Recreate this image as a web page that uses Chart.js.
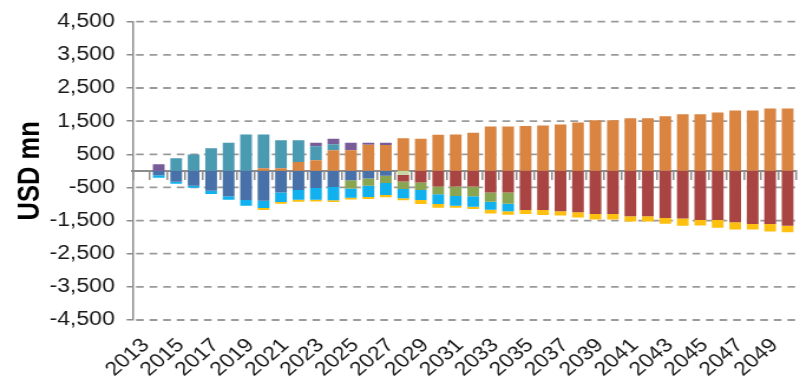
<!DOCTYPE html>
<html>
<head>
<meta charset="utf-8">
<script src="https://cdn.jsdelivr.net/npm/chart.js@4"></script>
<style>
  html, body { margin: 0; padding: 0; background: #fff; overflow: hidden; width: 810px; height: 387px; }
  /* the source picture is stretched sideways, so the chart is drawn narrow and widened */
  #wrap { position: absolute; left: 0; top: 0; width: 690px; height: 387px; transform: scaleX(1.18); transform-origin: 0 0; }
</style>
</head>
<body>
<div id="wrap"><canvas id="chart"></canvas></div>
<script>
const years = [2013, 2014, 2015, 2016, 2017, 2018, 2019, 2020, 2021, 2022, 2023, 2024, 2025,
  2026, 2027, 2028, 2029, 2030, 2031, 2032, 2033, 2034, 2035, 2036, 2037, 2038,
  2039, 2040, 2041, 2042, 2043, 2044, 2045, 2046, 2047, 2048, 2049];

// positive series, stacked up from zero in this order
const orange = [0, 0, 0, 0, 0, 0, 80, 80, 270, 320, 620, 620, 790, 780, 980, 970, 1090, 1100, 1150,
  1340, 1340, 1350, 1370, 1400, 1460, 1525, 1525, 1585, 1585, 1645, 1705, 1705, 1760, 1820, 1820, 1880, 1880];
const teal = [0, 380, 490, 680, 850, 1100, 1020, 840, 650, 420, 180, 0, 0, 0, 0, 0, 0, 0, 0,
  0, 0, 0, 0, 0, 0, 0, 0, 0, 0, 0, 0, 0, 0, 0, 0, 0, 0];
const purple = [200, 0, 0, 0, 0, 0, 0, 0, 0, 110, 170, 230, 60, 70, 0, 0, 0, 0, 0,
  0, 0, 0, 0, 0, 0, 0, 0, 0, 0, 0, 0, 0, 0, 0, 0, 0, 0];

// negative series, stacked down from zero in this order
const darkBlue = [-130, -330, -450, -600, -770, -880, -900, -650, -580, -520, -490, -280, -230, -150, 0, 0, 0, 0, 0,
  0, 0, 0, 0, 0, 0, 0, 0, 0, 0, 0, 0, 0, 0, 0, 0, 0, 0];
const lightGreen = [0, 0, 0, 0, 0, 0, 0, 0, 0, 0, 0, 0, 0, 0, -120, 0, 0, 0, 0,
  0, 0, 0, 0, 0, 0, 0, 0, 0, 0, 0, 0, 0, 0, 0, 0, 0, 0];
const darkRed = [0, 0, 0, 0, 0, 0, 0, 0, 0, 0, 0, 0, 0, 0, -200, -350, -470, -470, -470,
  -650, -650, -1180, -1180, -1220, -1250, -1300, -1300, -1370, -1370, -1420, -1440, -1480, -1480, -1550, -1600, -1600, -1660];
const green = [0, 0, 0, 0, 0, 0, 0, 0, 0, 0, 0, -250, -220, -220, -230, -230, -235, -290, -300,
  -280, -340, 0, 0, 0, 0, 0, 0, 0, 0, 0, 0, 0, 0, 0, 0, 0, 0];
const cyan = [-80, -60, -60, -100, -100, -170, -220, -290, -295, -355, -400, -280, -340, -360, -280, -300, -295, -290, -310,
  -240, -230, 0, 0, 0, 0, 0, 0, 0, 0, 0, 0, 0, 0, 0, 0, 0, 0];
const yellow = [0, 0, 0, 0, 0, 0, -60, -55, -55, -50, -50, -55, -60, -70, -60, -120, -115, -65, -70,
  -120, -105, -120, -150, -130, -160, -170, -170, -155, -155, -175, -215, -170, -240, -220, -170, -230, -190];

const yTicks = [-4500, -3500, -2500, -1500, -500, 500, 1500, 2500, 3500, 4500];

// the axis leaves one empty slot before the first year
const labels = [''].concat(years);
const pad = arr => [null].concat(arr);

const font = { family: "'Liberation Sans', Arial, sans-serif", size: 19.5 };

function ds(data, color) {
  return { data: pad(data), backgroundColor: color, borderWidth: 0,
    barPercentage: 0.67, categoryPercentage: 1 };
}

// dashed horizontal grid lines at the y ticks
const dashedGrid = {
  id: 'dashedGrid',
  beforeDatasetsDraw(chart) {
    const ctx = chart.ctx, area = chart.chartArea, y = chart.scales.y;
    ctx.save();
    ctx.strokeStyle = '#9A9A9A';
    ctx.lineWidth = 1.8;
    ctx.setLineDash([6.5, 5]);
    yTicks.forEach(v => {
      const py = y.getPixelForValue(v);
      ctx.beginPath();
      ctx.moveTo(area.left + 3, py);
      ctx.lineTo(area.right, py);
      ctx.stroke();
    });
    ctx.restore();
  }
};

new Chart(document.getElementById('chart'), {
  type: 'bar',
  data: {
    labels: labels,
    datasets: [
      ds(orange, '#D98440'),
      ds(teal, '#4A9AB1'),
      ds(purple, '#785C97'),
      ds(darkBlue, '#4771A8'),
      ds(lightGreen, '#C4D8A0'),
      ds(darkRed, '#A84543'),
      ds(green, '#8AA552'),
      ds(cyan, '#10B1EE'),
      ds(yellow, '#FDC010')
    ]
  },
  plugins: [dashedGrid],
  options: {
    responsive: true,
    maintainAspectRatio: false,
    animation: false,
    devicePixelRatio: 1,
    layout: { padding: { top: 20, left: 0, right: 0, bottom: 0 } },
    plugins: { legend: { display: false }, tooltip: { enabled: false } },
    scales: {
      x: {
        stacked: true,
        position: { y: 0 },
        offset: true,
        z: 1,
        ticks: { display: false },
        grid: { drawOnChartArea: false, offset: true, tickLength: 8, color: '#8C8C8C', lineWidth: 1.5 },
        border: { color: '#8C8C8C', width: 2 }
      },
      x2: {
        type: 'category',
        position: 'bottom',
        offset: true,
        grid: { display: false },
        border: { display: false },
        afterFit: s => { s.height = 67; },
        ticks: {
          autoSkip: false, maxRotation: 45, minRotation: 45,
          font: font, color: '#1a1a1a', padding: 6, labelOffset: -11,
          callback: (v, i) => (i % 2 === 1 ? String(labels[i]) : '')
        }
      },
      y: {
        stacked: true,
        min: -4500,
        max: 4500,
        afterFit: s => { s.width = 112.3; },
        afterBuildTicks: axis => { axis.ticks = yTicks.map(v => ({ value: v })); },
        ticks: {
          font: font, color: '#1a1a1a', padding: 10,
          callback: v => v.toLocaleString('en-US')
        },
        grid: { drawOnChartArea: false, color: '#8C8C8C', lineWidth: 1.5, tickLength: 5 },
        border: { color: '#8C8C8C', width: 1.5 },
        title: {
          display: true, text: 'USD mn', color: '#000',
          font: { family: "'Liberation Sans', Arial, sans-serif", size: 25.5, weight: 'bold' },
          padding: { top: 11, bottom: 0 }
        }
      }
    }
  }
});
</script>
</body>
</html>
